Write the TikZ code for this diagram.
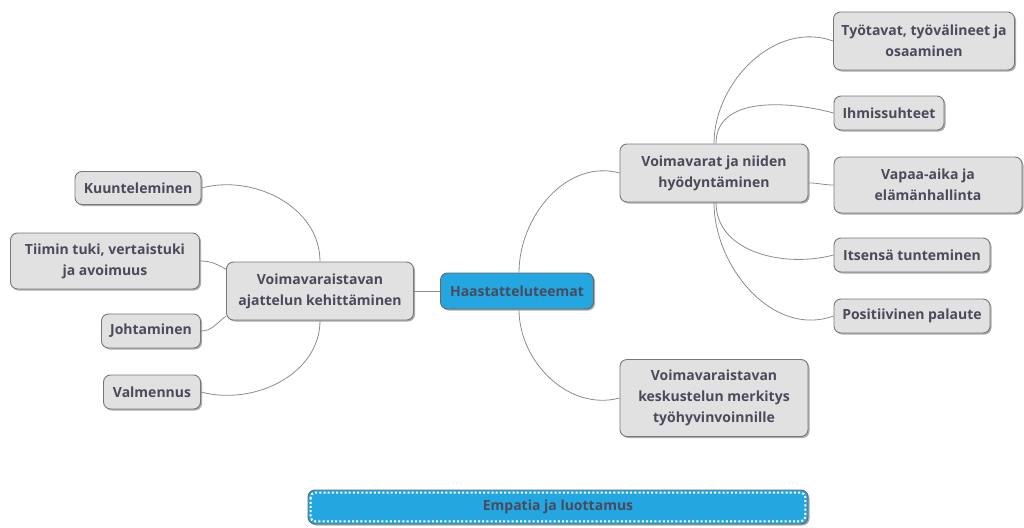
\documentclass[tikz,border=0pt]{standalone}
\usepackage{fontspec}
\setmainfont{Open Sans}
\usetikzlibrary{shadows}

\definecolor{txtgray}{RGB}{74,74,92}
\definecolor{boxgray}{RGB}{225,225,225}
\definecolor{edgegray}{RGB}{120,120,120}
\definecolor{linegray}{RGB}{140,140,140}
\definecolor{rootblue}{RGB}{36,167,224}

\tikzset{
  topic/.style={draw=edgegray, fill=boxgray, rounded corners=7pt, line width=0.9pt,
    align=center, inner sep=0pt, text=txtgray,
    font=\fontsize{14}{21}\selectfont\bfseries,
    drop shadow={shadow xshift=1.5pt, shadow yshift=-1.5pt, fill=black!55, opacity=0.6}},
  roottopic/.style={topic, fill=rootblue, draw=black!60},
  branch/.style={draw=linegray, line width=0.8pt}
}

\begin{document}
\begin{tikzpicture}[x=1pt, y=-1pt]
    \useasboundingbox (0, 0) rectangle (1024, 527);

    \node[roottopic, minimum width=153pt, minimum height=36pt] (root) at (517, 291) {Haastatteluteemat};

    \node[topic, minimum width=187pt, minimum height=58pt] (ajattelu) at (320, 291)
      {Voimavaraistavan\\ajattelun kehittäminen};
    \node[topic, minimum width=126pt, minimum height=33pt] (kuuntelu) at (138, 188) {Kuunteleminen};
    \node[topic, minimum width=189pt, minimum height=56pt] (tiimi) at (105, 261)
      {Tiimin tuki, vertaistuki\\ja avoimuus};
    \node[topic, minimum width=99pt, minimum height=34pt] (johto) at (151, 331) {Johtaminen};
    \node[topic, minimum width=97pt, minimum height=34pt] (valmennus) at (152, 392) {Valmennus};

    \node[topic, minimum width=188pt, minimum height=58pt] (varat) at (714, 173)
      {Voimavarat ja niiden\\hyödyntäminen};
    \node[topic, minimum width=181pt, minimum height=58pt] (tyotavat) at (924, 41)
      {Työtavat, työvälineet ja\\osaaminen};
    \node[topic, minimum width=110pt, minimum height=34pt] (ihmis) at (889, 113) {Ihmissuhteet};
    \node[topic, minimum width=188pt, minimum height=56pt] (vapaa) at (928, 185)
      {Vapaa-aika ja\\elämänhallinta};
    \node[topic, minimum width=156pt, minimum height=34pt] (itse) at (912, 255) {Itsensä tunteminen};
    \node[topic, minimum width=156pt, minimum height=34pt] (palaute) at (912, 316) {Positiivinen palaute};

    \node[topic, minimum width=188pt, minimum height=77pt] (keskustelu) at (714, 398)
      {Voimavaraistavan\\keskustelun merkitys\\työhyvinvoinnille};

    \node[roottopic, minimum width=500pt, minimum height=34pt] (empatia) at (558, 507) {Empatia ja luottamus};
    \draw[white, line width=2pt, dash pattern=on 2pt off 2.2pt, rounded corners=5pt]
      ([xshift=3pt, yshift=-3pt]empatia.north west) rectangle ([xshift=-3pt, yshift=3pt]empatia.south east);

    % root
    \draw[branch] (root.west) -- (ajattelu.east);
    \draw[branch] ([xshift=2pt]root.north) to[out=90, in=165] (varat.west);
    \draw[branch] ([xshift=2pt]root.south) to[out=-90, in=195] (keskustelu.west);

    % left side
    \draw[branch] (ajattelu.north) to[out=90, in=15] (kuuntelu.east);
    \draw[branch] (tiimi.east) to[out=0, in=150] (ajattelu.167);
    \draw[branch] (johto.east) to[out=0, in=215] (ajattelu.195);
    \draw[branch] (ajattelu.south) to[out=-90, in=-15] (valmennus.east);

    % right side
    \draw[branch] (varat.north) to[out=90, in=160] (tyotavat.west);
    \draw[branch] ([xshift=2pt]varat.north) to[out=90, in=165] (ihmis.west);
    \draw[branch] (varat.-6) to[out=0, in=180] (vapaa.west);
    \draw[branch] ([xshift=2pt]varat.south) to[out=-90, in=195] (itse.west);
    \draw[branch] (varat.south) to[out=-90, in=200] (palaute.west);
  \end{tikzpicture}
\end{document}
